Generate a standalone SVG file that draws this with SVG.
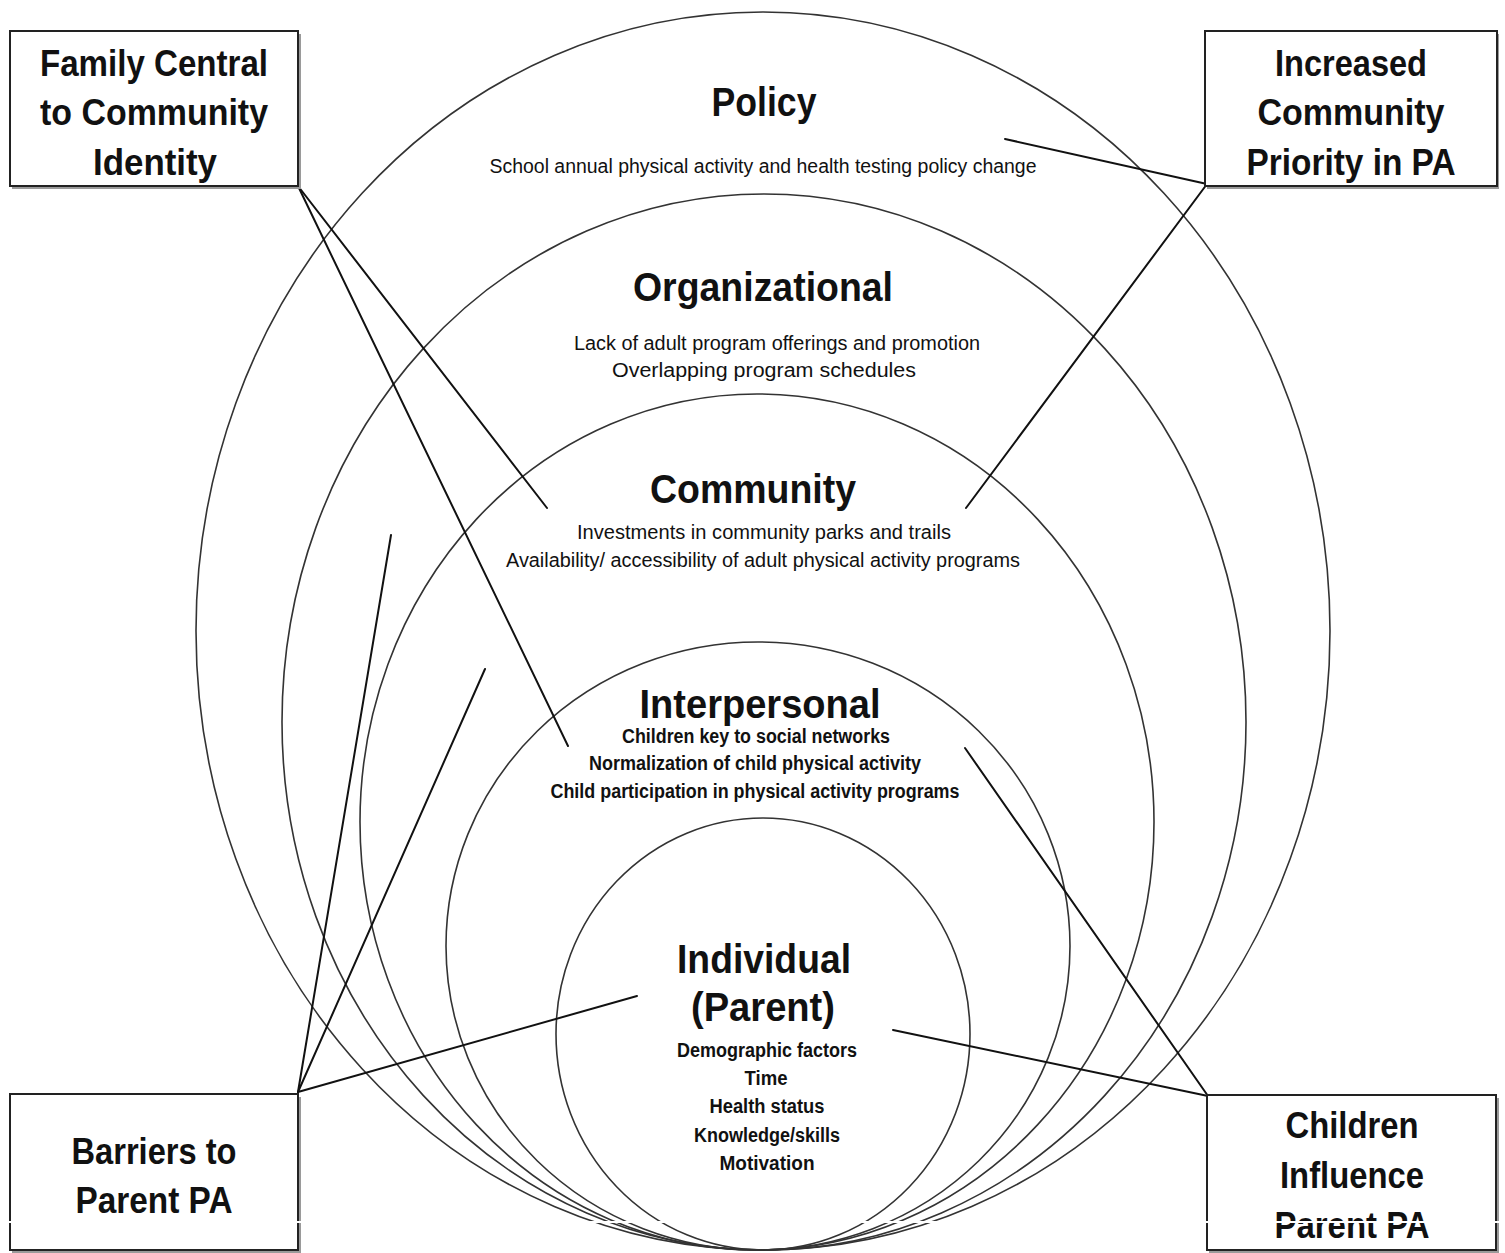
<svg xmlns="http://www.w3.org/2000/svg" width="1505" height="1253" viewBox="0 0 1505 1253">
  <style>
    .ring { fill: none; stroke: #333; stroke-width: 1.6; }
    .box { fill: #fff; stroke: #222; stroke-width: 2; }
    .shadow { fill: #9a9a9a; }
    .link { stroke: #111; stroke-width: 2; fill: none; stroke-linecap: round; }
    text { font-family: "Liberation Sans", Arial, sans-serif; fill: #111; text-anchor: middle; }
    .boxlabel { font-size: 36px; font-weight: bold; }
    .title { font-size: 40px; font-weight: bold; }
    .item { font-size: 20px; }
    .item-b { font-size: 20px; font-weight: bold; }
  </style>
  <rect width="1505" height="1253" fill="#fff"/>

  <!-- nested levels of the socio-ecological model, all touching at the bottom -->
  <g id="levels">
    <g id="policy">
      <ellipse class="ring" cx="763" cy="631" rx="567" ry="619"/>
      <text class="title" x="764" y="116" textLength="105" lengthAdjust="spacingAndGlyphs">Policy</text>
      <text class="item" x="763" y="173" textLength="547" lengthAdjust="spacingAndGlyphs">School annual physical activity and health testing policy change</text>
    </g>
    <g id="organizational">
      <ellipse class="ring" cx="764" cy="722" rx="482" ry="528"/>
      <text class="title" x="763" y="301" textLength="260" lengthAdjust="spacingAndGlyphs">Organizational</text>
      <text class="item" x="777" y="350" textLength="406" lengthAdjust="spacingAndGlyphs">Lack of adult program offerings and promotion</text>
      <text class="item" x="764" y="377" textLength="304" lengthAdjust="spacingAndGlyphs">Overlapping program schedules</text>
    </g>
    <g id="community">
      <ellipse class="ring" cx="757" cy="822" rx="397" ry="428"/>
      <text class="title" x="753" y="503" textLength="206" lengthAdjust="spacingAndGlyphs">Community</text>
      <text class="item" x="764" y="539" textLength="374" lengthAdjust="spacingAndGlyphs">Investments in community parks  and trails</text>
      <text class="item" x="763" y="567" textLength="514" lengthAdjust="spacingAndGlyphs">Availability/ accessibility of adult physical activity programs</text>
    </g>
    <g id="interpersonal">
      <ellipse class="ring" cx="758" cy="946" rx="312" ry="304"/>
      <text class="title" x="760" y="718" textLength="241" lengthAdjust="spacingAndGlyphs">Interpersonal</text>
      <text class="item-b" x="756" y="743" textLength="268" lengthAdjust="spacingAndGlyphs">Children key to social  networks</text>
      <text class="item-b" x="755" y="770" textLength="332" lengthAdjust="spacingAndGlyphs">Normalization of child physical activity</text>
      <text class="item-b" x="755" y="798" textLength="409" lengthAdjust="spacingAndGlyphs">Child participation in physical  activity programs</text>
    </g>
    <g id="individual">
      <ellipse class="ring" cx="763" cy="1034" rx="207" ry="216"/>
      <text class="title" x="764" y="973" textLength="174" lengthAdjust="spacingAndGlyphs">Individual</text>
      <text class="title" x="763" y="1021" textLength="144" lengthAdjust="spacingAndGlyphs">(Parent)</text>
      <text class="item-b" x="767" y="1057" textLength="180" lengthAdjust="spacingAndGlyphs">Demographic factors</text>
      <text class="item-b" x="766" y="1085" textLength="43" lengthAdjust="spacingAndGlyphs">Time</text>
      <text class="item-b" x="767" y="1113" textLength="115" lengthAdjust="spacingAndGlyphs">Health status</text>
      <text class="item-b" x="767" y="1142" textLength="146" lengthAdjust="spacingAndGlyphs">Knowledge/skills</text>
      <text class="item-b" x="767" y="1170" textLength="95" lengthAdjust="spacingAndGlyphs">Motivation</text>
    </g>
  </g>

  <!-- connectors from the theme boxes to the levels -->
  <g id="connectors">
    <line class="link" x1="298" y1="186" x2="547" y2="508"/>
    <line class="link" x1="298" y1="186" x2="568" y2="746"/>
    <line class="link" x1="1207" y1="184" x2="1005" y2="139"/>
    <line class="link" x1="1207" y1="184" x2="966" y2="508"/>
    <line class="link" x1="298" y1="1092" x2="391" y2="535"/>
    <line class="link" x1="298" y1="1092" x2="485" y2="669"/>
    <line class="link" x1="298" y1="1092" x2="637" y2="996"/>
    <line class="link" x1="1208" y1="1096" x2="965" y2="748"/>
    <line class="link" x1="1208" y1="1096" x2="893" y2="1030"/>
  </g>

  <!-- theme boxes -->
  <g id="family-central">
    <rect class="shadow" x="12" y="34" width="289" height="155"/>
    <rect class="box" x="10" y="31" width="288" height="155"/>
    <text class="boxlabel" x="154" y="76" textLength="228" lengthAdjust="spacingAndGlyphs">Family Central</text>
    <text class="boxlabel" x="154" y="125" textLength="228" lengthAdjust="spacingAndGlyphs">to Community</text>
    <text class="boxlabel" x="155" y="175" textLength="124" lengthAdjust="spacingAndGlyphs">Identity</text>
  </g>
  <g id="community-priority">
    <rect class="shadow" x="1207" y="34" width="292" height="155"/>
    <rect class="box" x="1205" y="31" width="292" height="155"/>
    <text class="boxlabel" x="1351" y="76" textLength="152" lengthAdjust="spacingAndGlyphs">Increased</text>
    <text class="boxlabel" x="1351" y="125" textLength="187" lengthAdjust="spacingAndGlyphs">Community</text>
    <text class="boxlabel" x="1351" y="175" textLength="209" lengthAdjust="spacingAndGlyphs">Priority in PA</text>
  </g>
  <g id="barriers">
    <rect class="shadow" x="12" y="1097" width="289" height="160"/>
    <rect class="box" x="10" y="1094" width="288" height="156"/>
    <text class="boxlabel" x="154" y="1164" textLength="165" lengthAdjust="spacingAndGlyphs">Barriers to</text>
    <text class="boxlabel" x="154" y="1213" textLength="157" lengthAdjust="spacingAndGlyphs">Parent PA</text>
  </g>
  <g id="children-influence">
    <rect class="shadow" x="1209" y="1098" width="290" height="160"/>
    <rect class="box" x="1207" y="1095" width="289" height="155"/>
    <text class="boxlabel" x="1352" y="1138" textLength="133" lengthAdjust="spacingAndGlyphs">Children</text>
    <text class="boxlabel" x="1352" y="1188" textLength="144" lengthAdjust="spacingAndGlyphs">Influence</text>
    <text class="boxlabel" x="1352" y="1238" textLength="155" lengthAdjust="spacingAndGlyphs">Parent PA</text>
  </g>

  <!-- thin light seam running across the lower part -->
  <rect x="0" y="1221" width="1505" height="2" fill="#fff"/>
</svg>
